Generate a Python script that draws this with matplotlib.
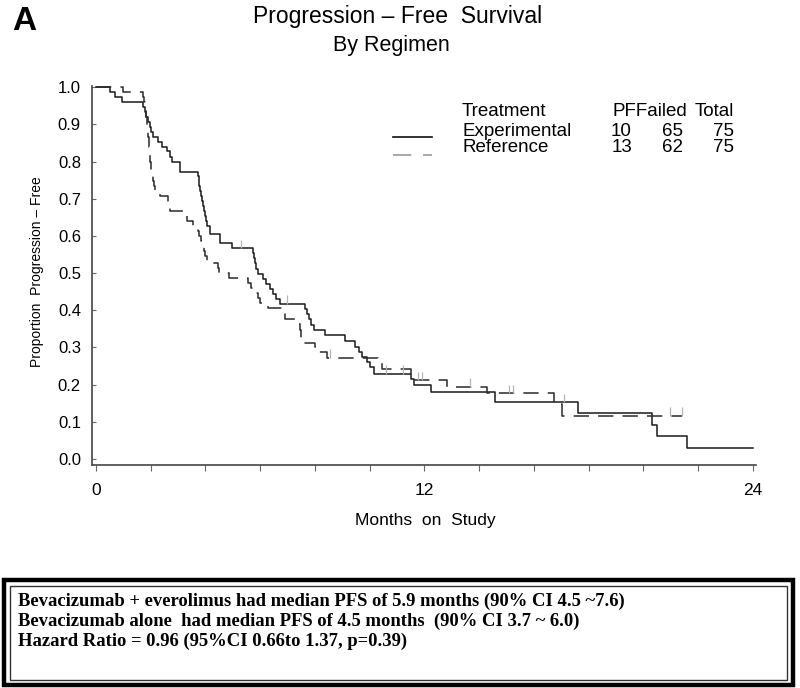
import matplotlib
matplotlib.use("Agg")
import matplotlib.pyplot as plt
from matplotlib.lines import Line2D
from matplotlib.patches import Rectangle

plt.rcParams['font.family'] = ['Liberation Sans', 'DejaVu Sans']

# Kaplan-Meier steps (months, proportion progression-free)
exp_t = [0, 0.5, 0.7, 0.95, 1.73, 1.78, 1.83, 1.9, 1.96, 2.02, 2.1, 2.28, 2.4, 2.58,
         2.7, 2.76, 3.07, 3.72, 3.75, 3.78, 3.81, 3.84, 3.87, 3.9, 3.93, 3.97, 4.02,
         4.07, 4.15, 4.53, 4.95, 5.73, 5.77, 5.81, 5.86, 5.93, 6.1, 6.22, 6.34, 6.46,
         6.56, 6.72, 7.64, 7.7, 7.78, 7.86, 7.95, 8.37, 9.1, 9.47, 9.59, 9.72, 9.9,
         10.02, 10.14, 11.5, 11.62, 12.22, 14.59, 17.6, 20.3, 20.48, 21.6, 24.0]
exp_s = [1.0, 0.987, 0.973, 0.96, 0.947, 0.933, 0.92, 0.907, 0.893, 0.88, 0.867, 0.853,
         0.84, 0.827, 0.813, 0.8, 0.773, 0.76, 0.747, 0.733, 0.72, 0.707, 0.693, 0.68,
         0.667, 0.653, 0.64, 0.627, 0.605, 0.58, 0.567, 0.553, 0.54, 0.526, 0.512, 0.498,
         0.485, 0.471, 0.457, 0.444, 0.431, 0.418, 0.404, 0.39, 0.376, 0.361, 0.347,
         0.333, 0.318, 0.3, 0.289, 0.275, 0.261, 0.247, 0.23, 0.215, 0.199, 0.179, 0.153,
         0.123, 0.092, 0.061, 0.031, 0.031]

ref_t = [0, 1.0, 1.73, 1.76, 1.79, 1.81, 1.83, 1.85, 1.87, 1.89, 1.91, 1.93, 1.95, 1.96,
         1.97, 1.98, 2.0, 2.02, 2.05, 2.08, 2.12, 2.16, 2.33, 2.63, 2.68, 2.72, 3.2, 3.32,
         3.55, 3.74, 3.78, 3.84, 3.9, 3.95, 4.0, 4.07, 4.45, 4.5, 4.85, 5.57, 5.65, 5.85,
         5.92, 6.0, 6.3, 6.82, 6.9, 7.38, 7.45, 7.5, 7.58, 8.0, 8.08, 8.45, 10.3, 10.45,
         11.5, 12.82, 14.28, 16.72, 17.03, 21.4]
ref_s = [1.0, 0.987, 0.973, 0.96, 0.947, 0.933, 0.92, 0.907, 0.893, 0.88, 0.867, 0.853,
         0.84, 0.827, 0.813, 0.8, 0.787, 0.773, 0.76, 0.747, 0.733, 0.72, 0.707, 0.693,
         0.68, 0.667, 0.653, 0.64, 0.627, 0.613, 0.6, 0.587, 0.573, 0.56, 0.547, 0.527,
         0.513, 0.5, 0.487, 0.473, 0.46, 0.447, 0.433, 0.42, 0.405, 0.39, 0.376, 0.362,
         0.348, 0.326, 0.312, 0.3, 0.289, 0.273, 0.258, 0.243, 0.213, 0.195, 0.177, 0.147,
         0.117, 0.117]

# censoring marks
exp_cens_t = [5.3, 6.97, 10.6, 11.2, 17.1]
exp_cens_s = [0.567, 0.418, 0.23, 0.23, 0.153]
ref_cens_t = [8.56, 11.75, 11.9, 13.65, 15.1, 15.25, 20.97, 21.4]
ref_cens_s = [0.273, 0.213, 0.213, 0.195, 0.177, 0.177, 0.117, 0.117]

groups = ["Experimental", "Reference"]
pf = [10, 13]
failed = [65, 62]
total = [75, 75]

notes = ["Bevacizumab + everolimus had median PFS of 5.9 months (90% CI 4.5 ~7.6)",
         "Bevacizumab alone  had median PFS of 4.5 months  (90% CI 3.7 ~ 6.0)",
         "Hazard Ratio = 0.96 (95%CI 0.66to 1.37, p=0.39)"]

W, H = 800, 688
fig = plt.figure(figsize=(8, 6.88), dpi=100)


def fx(px):
    return px / W


def fy(py):
    return 1 - py / H


ax = fig.add_axes([fx(92), fy(465), fx(756) - fx(92), fy(86) - fy(465)])
ax.step(exp_t, exp_s, where='post', color='#1a1a1a', lw=1.1)
ax.step(ref_t, ref_s, where='post', color='#2a2a2a', lw=1.1, dashes=(10, 6))
ax.vlines(exp_cens_t, exp_cens_s, [s + 0.022 for s in exp_cens_s], color='#b5b5b5', lw=0.9)
ax.vlines(ref_cens_t, ref_cens_s, [s + 0.022 for s in ref_cens_s], color='#b5b5b5', lw=0.9)

ax.set_xlim(-0.146, 24.11)
ax.set_ylim(-0.016, 1.003)
ax.spines['top'].set_visible(False)
ax.spines['right'].set_visible(False)
for sp in ['left', 'bottom']:
    ax.spines[sp].set_color('#444444')
    ax.spines[sp].set_linewidth(1.2)

xt = list(range(0, 25, 2))
ax.set_xticks(xt)
ax.set_xticklabels([str(v) if v % 12 == 0 else "" for v in xt], fontsize=12.5)
yt = [i / 10 for i in range(11)]
ax.set_yticks(yt)
ax.set_yticklabels(["%.1f" % v for v in yt], fontsize=12)
ax.tick_params(axis='x', direction='out', length=4, pad=9, color='#666666')
ax.tick_params(axis='y', direction='in', length=3, pad=8, color='#666666')

# titles and labels
fig.text(fx(12), fy(21), "A", fontsize=24, fontweight='bold', va='center', ha='left')
fig.text(fx(398), fy(17), "Progression \u2013 Free  Survival", fontsize=16.5, ha='center', va='center')
fig.text(fx(391), fy(45), "By Regimen", fontsize=15.5, ha='center', va='center')
fig.text(fx(37), fy(272), "Proportion  Progression \u2013 Free", fontsize=10, rotation=90,
         ha='center', va='center')
fig.text(fx(425), fy(521), "Months  on  Study", fontsize=12.5, ha='center', va='center')

# legend table
fig.add_artist(Line2D([fx(393), fx(432)], [fy(137), fy(137)], color='#111111', lw=1.2))
fig.add_artist(Line2D([fx(393), fx(432)], [fy(155), fy(155)], color='#999999', lw=1.2,
                      dashes=(11, 7)))
fs_leg = 13.5
fig.text(fx(462), fy(111), "Treatment", fontsize=fs_leg, va='center')
fig.text(fx(612), fy(111), "PFFailed", fontsize=fs_leg, va='center')
fig.text(fx(734), fy(111), "Total", fontsize=fs_leg, va='center', ha='right')
rows_y = [131, 148]
for i in range(len(groups)):
    fig.text(fx(462), fy(rows_y[i]), groups[i], fontsize=fs_leg, va='center')
    fig.text(fx(632), fy(rows_y[i]), str(pf[i]), fontsize=fs_leg, va='center', ha='right')
    fig.text(fx(683), fy(rows_y[i]), str(failed[i]), fontsize=fs_leg, va='center', ha='right')
    fig.text(fx(734), fy(rows_y[i]), str(total[i]), fontsize=fs_leg, va='center', ha='right')

# note box
fig.add_artist(Rectangle((fx(4), fy(685)), fx(793) - fx(4), fy(580) - fy(685),
                         fill=False, ec='black', lw=3.2))
fig.add_artist(Rectangle((fx(10), fy(680)), fx(787) - fx(10), fy(586) - fy(680),
                         fill=False, ec='#333333', lw=1.0))
note_y = [601, 621, 641]
for i in range(len(notes)):
    fig.text(fx(18), fy(note_y[i]), notes[i], fontsize=13.4, fontweight='bold',
             family='Liberation Serif', va='center', ha='left')

fig.savefig("out.png", dpi=100)
